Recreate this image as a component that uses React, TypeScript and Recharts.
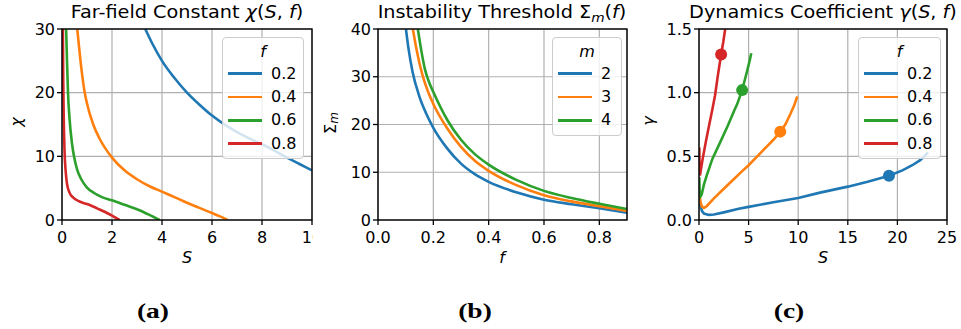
import { LineChart, ComposedChart, Line, Scatter, XAxis, YAxis, CartesianGrid, Legend } from 'recharts';

const colors = ['#1f77b4', '#ff7f0e', '#2ca02c', '#d62728'];

// (a) far-field constant chi(S, f)
const fLabels = ['0.2', '0.4', '0.6', '0.8'];
const aS02 = [3.33, 3.6, 4, 4.5, 5, 5.5, 6, 6.5, 7, 7.5, 8, 8.5, 9, 9.5, 10];
const aChi02 = [30, 27.8, 25, 22.3, 20, 18.1, 16.4, 15, 13.8, 12.8, 11.9, 10.9, 9.8, 8.8, 7.8];
const aS04 = [0.61, 0.7, 0.8, 0.91, 1.0, 1.25, 1.5, 2, 2.5, 3, 3.5, 4, 4.5, 5, 5.5, 6, 6.3, 6.62];
const aChi04 = [30, 26.5, 23, 20, 18.3, 15, 12.8, 9.8, 7.8, 6.4, 5.3, 4.45, 3.6, 2.7, 1.9, 1.1, 0.6, 0];
const aS06 = [0.165, 0.2, 0.24, 0.3, 0.4, 0.48, 0.6, 0.77, 1, 1.3, 1.6, 2, 2.5, 3, 3.5, 3.9];
const aChi06 = [30, 25, 20, 16, 12, 10, 8, 6.4, 5.1, 4.2, 3.6, 3.1, 2.4, 1.7, 0.8, 0];
const aS08 = [0.035, 0.05, 0.07, 0.1, 0.15, 0.2, 0.3, 0.45, 0.7, 1, 1.5, 2, 2.3];
const aChi08 = [30, 22, 16, 11, 7.5, 5.7, 4.3, 3.5, 2.9, 2.5, 1.65, 0.7, 0];
const aTicksX = [0, 2, 4, 6, 8, 10];
const aTicksY = [0, 10, 20, 30];

// (b) instability threshold Sigma_m(f)
const mLabels = ['2', '3', '4'];
const bF2 = [0.101, 0.11, 0.125, 0.15, 0.175, 0.2, 0.25, 0.3, 0.35, 0.4, 0.5, 0.6, 0.7, 0.8, 0.9];
const bSig2 = [40, 36, 31, 25.8, 22.2, 19.3, 15, 11.8, 9.6, 8.0, 5.8, 4.25, 3.3, 2.45, 1.5];
const bF3 = [0.126, 0.14, 0.16, 0.18, 0.2, 0.25, 0.3, 0.35, 0.4, 0.5, 0.6, 0.7, 0.8, 0.9];
const bSig3 = [40, 35.5, 30.5, 27, 24.3, 19.2, 15.3, 12.4, 10.3, 7.3, 5.2, 3.9, 2.9, 1.9];
const bF4 = [0.144, 0.155, 0.17, 0.185, 0.2, 0.25, 0.3, 0.35, 0.4, 0.5, 0.6, 0.7, 0.8, 0.9];
const bSig4 = [40, 36, 31.5, 28.8, 26.8, 21, 16.8, 13.8, 11.6, 8.4, 6.1, 4.6, 3.4, 2.3];
const bTicksX = [0, 0.2, 0.4, 0.6, 0.8];
const bTicksY = [0, 10, 20, 30, 40];

// (c) dynamics coefficient gamma(S, f)
const cS02 = [0.07, 0.15, 0.3, 0.5, 1.0, 1.5, 2.5, 4, 5, 7.5, 10, 12.2, 15, 17, 19.15, 20.5, 21.5, 22.3, 23.1];
const cG02 = [0.165, 0.11, 0.07, 0.05, 0.04, 0.043, 0.06, 0.088, 0.103, 0.14, 0.173, 0.215, 0.262, 0.3, 0.348, 0.39, 0.43, 0.47, 0.53];
const cS04 = [0.08, 0.15, 0.3, 0.5, 0.8, 1.5, 2.5, 3.5, 4.3, 5, 6, 7, 7.5, 8.19, 8.7, 9.2, 9.6, 9.9];
const cG04 = [0.19, 0.14, 0.105, 0.095, 0.11, 0.17, 0.245, 0.32, 0.38, 0.43, 0.51, 0.59, 0.63, 0.694, 0.75, 0.83, 0.9, 0.97];
const cS06 = [0.03, 0.06, 0.15, 0.27, 0.5, 0.78, 1.35, 2.13, 2.9, 3.5, 3.85, 4.35, 4.85, 5.1, 5.27];
const cG06 = [0.335, 0.23, 0.185, 0.2, 0.28, 0.35, 0.48, 0.61, 0.74, 0.85, 0.91, 1.02, 1.17, 1.25, 1.31];
const cS08 = [0.03, 0.05, 0.09, 0.2, 0.37, 0.68, 1.01, 1.35, 1.62, 1.89, 2.23, 2.45, 2.64];
const cG08 = [0.57, 0.46, 0.35, 0.4, 0.48, 0.61, 0.74, 0.87, 0.98, 1.13, 1.3, 1.4, 1.5];
const markS = [19.15, 8.19, 4.35, 2.23];
const markG = [0.348, 0.694, 1.02, 1.3];
const cTicksX = [0, 5, 10, 15, 20, 25];
const cTicksY = [0, 0.5, 1, 1.5];

const zip = (xs: number[], ys: number[]) => xs.map((x, i) => ({ x, y: ys[i] }));

const aSeries = [zip(aS02, aChi02), zip(aS04, aChi04), zip(aS06, aChi06), zip(aS08, aChi08)];
const bSeries = [zip(bF2, bSig2), zip(bF3, bSig3), zip(bF4, bSig4)];
const cSeries = [zip(cS02, cG02), zip(cS04, cG04), zip(cS06, cG06), zip(cS08, cG08)];

const font = 'DejaVu Sans, sans-serif';
const tickStyle = { fill: '#000', fontSize: 16, fontFamily: font };
const tickLine = { stroke: '#000', strokeWidth: 1.3 };
const gridColor = '#b0b0b0';
const lineW = 2.6;

const LegendBox = ({ title, labels, width }: { title: string; labels: string[]; width: number }) => (
  <div
    style={{
      width,
      boxSizing: 'border-box',
      border: '1px solid #cccccc',
      borderRadius: 4,
      background: 'rgba(255,255,255,0.8)',
      padding: '4px 0 3px 0',
      fontFamily: font,
      fontSize: 16,
      color: '#000',
    }}
  >
    <div style={{ height: 20, lineHeight: '20px', textAlign: 'center', fontStyle: 'italic' }}>{title}</div>
    {labels.map((l, i) => (
      <div key={l} style={{ height: 23.3, display: 'flex', alignItems: 'center' }}>
        <span style={{ marginLeft: 5, width: 34, height: 2.6, background: colors[i], display: 'inline-block' }} />
        <span style={{ marginLeft: 9, lineHeight: '20px' }}>{l}</span>
      </div>
    ))}
  </div>
);

const fmt1 = (v: number) => v.toFixed(1);

const App = () => {
  return (
    <div style={{ position: 'absolute', left: 0, top: 0, width: 961, height: 329, background: '#fff', fontFamily: font }}>
      {/* (a) */}
      <div style={{ position: 'absolute', left: 0, top: 0, width: 313, height: 260, overflow: 'hidden' }}>
        <LineChart width={340} height={260} margin={{ top: 29, right: 28, bottom: 10, left: 12 }}>
          <CartesianGrid stroke={gridColor} strokeWidth={1.2} />
          <XAxis type="number" dataKey="x" domain={[0, 10]} ticks={aTicksX} allowDataOverflow interval={0}
            axisLine={false} tickLine={tickLine} tickSize={5} tickMargin={7} tick={tickStyle} height={30} />
          <YAxis type="number" domain={[0, 30]} ticks={aTicksY} allowDataOverflow interval={0}
            axisLine={false} tickLine={tickLine} tickSize={5} tickMargin={2} tick={tickStyle} width={50} />
          {aSeries.map((d, i) => (
            <Line key={i} data={d} dataKey="y" type="monotone" stroke={colors[i]} strokeWidth={lineW}
              dot={false} isAnimationActive={false} />
          ))}
          <Legend verticalAlign="middle" align="center" layout="horizontal"
            wrapperStyle={{ top: 37, left: 222, width: 82 }}
            content={() => <LegendBox title="f" labels={fLabels} width={82} />} />
        </LineChart>
      </div>

      {/* (b) */}
      <div style={{ position: 'absolute', left: 320, top: 0, width: 320, height: 260 }}>
        <LineChart width={320} height={260} margin={{ top: 29, right: 13, bottom: 10, left: 8 }}>
          <CartesianGrid stroke={gridColor} strokeWidth={1.2} />
          <XAxis type="number" dataKey="x" domain={[0, 0.9]} ticks={bTicksX} allowDataOverflow interval={0}
            tickFormatter={fmt1} axisLine={false} tickLine={tickLine} tickSize={5} tickMargin={7} tick={tickStyle} height={30} />
          <YAxis type="number" domain={[0, 40]} ticks={bTicksY} allowDataOverflow interval={0}
            axisLine={false} tickLine={tickLine} tickSize={5} tickMargin={2} tick={tickStyle} width={50} />
          {bSeries.map((d, i) => (
            <Line key={i} data={d} dataKey="y" type="monotone" stroke={colors[i]} strokeWidth={lineW}
              dot={false} isAnimationActive={false} />
          ))}
          <Legend verticalAlign="middle" align="center" layout="horizontal"
            wrapperStyle={{ top: 37, left: 232, width: 70 }}
            content={() => <LegendBox title="m" labels={mLabels} width={70} />} />
        </LineChart>
      </div>

      {/* (c) */}
      <div style={{ position: 'absolute', left: 640, top: 0, width: 321, height: 260 }}>
        <ComposedChart width={321} height={260} margin={{ top: 29, right: 14, bottom: 10, left: 9 }}>
          <CartesianGrid stroke={gridColor} strokeWidth={1.2} />
          <XAxis type="number" dataKey="x" domain={[0, 25]} ticks={cTicksX} allowDataOverflow interval={0}
            axisLine={false} tickLine={tickLine} tickSize={5} tickMargin={7} tick={tickStyle} height={30} />
          <YAxis type="number" domain={[0, 1.5]} ticks={cTicksY} allowDataOverflow interval={0}
            tickFormatter={fmt1} axisLine={false} tickLine={tickLine} tickSize={5} tickMargin={2} tick={tickStyle} width={50} />
          {cSeries.map((d, i) => (
            <Line key={i} data={d} dataKey="y" type="linear" stroke={colors[i]} strokeWidth={lineW}
              dot={false} isAnimationActive={false} />
          ))}
          {markS.map((s, i) => (
            <Scatter key={'m' + i} data={[{ x: s, y: markG[i] }]} dataKey="y" fill={colors[i]} legendType="none"
              isAnimationActive={false}
              shape={(p: any) => <circle cx={p.cx} cy={p.cy} r={6} fill={colors[i]} />} />
          ))}
          <Legend verticalAlign="middle" align="center" layout="horizontal"
            wrapperStyle={{ top: 37, left: 218, width: 83 }}
            content={() => <LegendBox title="f" labels={fLabels} width={83} />} />
        </ComposedChart>
      </div>

      {/* titles, spines, axis labels, captions */}
      <svg width={961} height={329} style={{ position: 'absolute', left: 0, top: 0, pointerEvents: 'none' }}>
        <g fill="none" stroke="#000" strokeWidth={1.4}>
          <rect x={62} y={29} width={250} height={191} />
          <rect x={378} y={29} width={249} height={191} />
          <rect x={699} y={29} width={248} height={191} />
        </g>
        <g fontFamily={font} fontSize={17.5} fill="#000" textAnchor="middle">
          <text transform="translate(187 17.5) scale(1.1 1)">
            Far-field Constant <tspan fontStyle="italic">χ</tspan>(<tspan fontStyle="italic">S</tspan>, <tspan fontStyle="italic">f</tspan>)
          </text>
          <text transform="translate(502 17.5) scale(1.1 1)">
            Instability Threshold Σ<tspan fontStyle="italic" fontSize={12.5} dy={4}>m</tspan><tspan dy={-4}>(</tspan><tspan fontStyle="italic">f</tspan>)
          </text>
          <text transform="translate(823 17.5) scale(1.1 1)">
            Dynamics Coefficient <tspan fontStyle="italic">γ</tspan>(<tspan fontStyle="italic">S</tspan>, <tspan fontStyle="italic">f</tspan>)
          </text>
        </g>
        <g fontFamily={font} fontSize={16} fill="#000" textAnchor="middle" fontStyle="italic">
          <text x={187} y={263}>S</text>
          <text x={502} y={263}>f</text>
          <text x={823} y={263}>S</text>
          <text x={16} y={122} transform="rotate(-90 16 122)" dominantBaseline="central">χ</text>
          <text x={330} y={123} transform="rotate(-90 330 123)" dominantBaseline="central">
            <tspan fontStyle="normal">Σ</tspan><tspan fontSize={12} dy={4}>m</tspan>
          </text>
          <text x={648} y={121} transform="rotate(-90 648 121)" dominantBaseline="central">γ</text>
        </g>
        <g fontFamily="Liberation Serif, serif" fontSize={22} fontWeight="bold" fill="#000" textAnchor="middle">
          <text transform="translate(153 318) scale(1.25 1)">(a)</text>
          <text transform="translate(475 318) scale(1.25 1)">(b)</text>
          <text transform="translate(789 318) scale(1.25 1)">(c)</text>
        </g>
      </svg>
    </div>
  );
};

export default App;
